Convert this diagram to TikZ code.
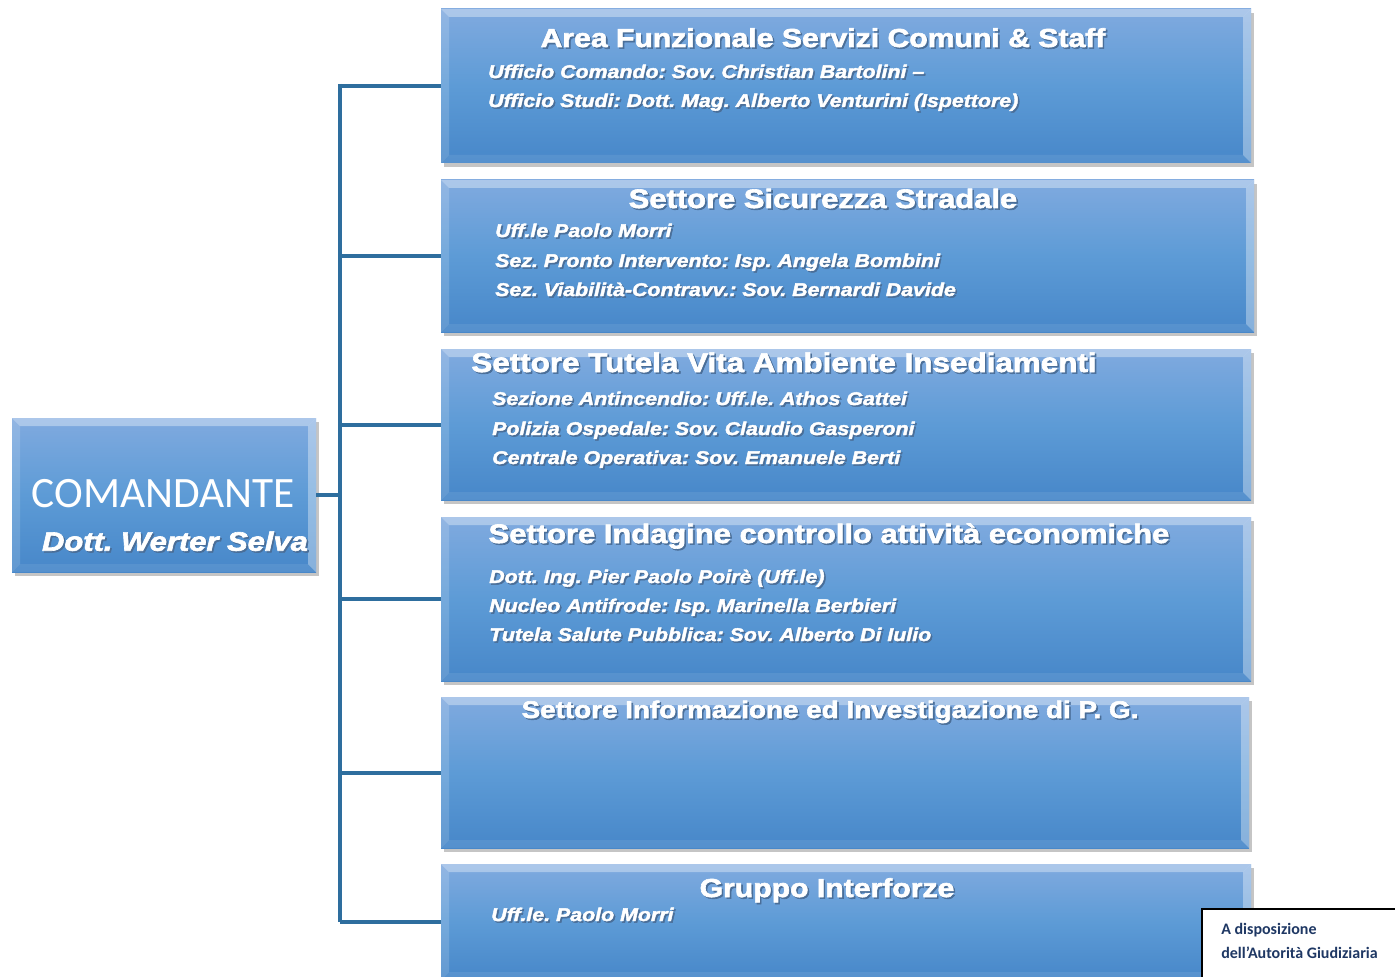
\documentclass[tikz,border=0pt]{standalone}
\usepackage{fontspec}
\setmainfont{Liberation Sans}
\newfontfamily\heavy{Liberation Sans}[BoldFeatures={FakeBold=2.4,FakeStretch=1.16}, BoldItalicFeatures={FakeBold=2.4,FakeStretch=1.16}]
\newfontfamily\carlito{Carlito}
\usetikzlibrary{shadows}
\definecolor{conncol}{HTML}{2E6E9E}
\definecolor{boxtop}{HTML}{80AADF}
\definecolor{boxmid}{HTML}{5D9BD6}
\definecolor{boxbot}{HTML}{4787C9}
\definecolor{notecol}{HTML}{1F3864}
\definecolor{shcol}{HTML}{4A6E98}
\newcommand\shtxt[1]{\rlap{\kern1.2pt\raisebox{-1.2pt}{\textcolor{shcol}{#1}}}#1}
\tikzset{
  bevel/.style={path picture={
    \fill[white,opacity=0.35] (path picture bounding box.north west) -- (path picture bounding box.north east)
      -- ([xshift=-6pt,yshift=-6pt]path picture bounding box.north east) -- ([xshift=6pt,yshift=-6pt]path picture bounding box.north west) -- cycle;
    \fill[white,opacity=0.15] (path picture bounding box.north west) -- (path picture bounding box.south west)
      -- ([xshift=6pt,yshift=6pt]path picture bounding box.south west) -- ([xshift=6pt,yshift=-6pt]path picture bounding box.north west) -- cycle;
    \fill[white,opacity=0.35] (path picture bounding box.north east) -- (path picture bounding box.south east)
      -- ([xshift=-6pt,yshift=6pt]path picture bounding box.south east) -- ([xshift=-6pt,yshift=-6pt]path picture bounding box.north east) -- cycle;
    \fill[white,opacity=0.08] (path picture bounding box.south west) -- (path picture bounding box.south east)
      -- ([xshift=-6pt,yshift=6pt]path picture bounding box.south east) -- ([xshift=6pt,yshift=6pt]path picture bounding box.south west) -- cycle;
  }},
  unitbox/.style={anchor=north west, inner sep=0pt, outer sep=0pt,
    top color=boxtop, bottom color=boxbot, middle color=boxmid,
    drop shadow={opacity=0.45, shadow xshift=2pt, shadow yshift=-3pt}, bevel},
  conn/.style={draw=conncol, line width=3pt},
  title/.style={text=white, inner sep=0pt, anchor=base, font=\heavy\fontsize{19.5}{23}\selectfont\bfseries\frenchspacing},
  sub/.style={text=white, inner sep=0pt, anchor=base west, font=\heavy\fontsize{13.8}{16}\selectfont\bfseries\itshape\frenchspacing},
  note/.style={text=notecol, inner sep=0pt, anchor=west, font=\carlito\fontsize{12}{14}\selectfont\bfseries},
}
\begin{document}
\begin{tikzpicture}[x=0.75pt,y=-0.75pt]
\useasboundingbox (0,0) rectangle (1395,977);
\clip (0,0) rectangle (1395,977);
\fill[white] (0,0) rectangle (1395,977);

% connectors
\coordinate (top) at (340,84);
\coordinate (bot) at (340,922);

% boxes
\node[unitbox, minimum width=228pt, minimum height=115.5pt] (cmd) at (12,418) {};
\node[unitbox, minimum width=607.5pt, minimum height=115.5pt] (b1) at (441,9) {};
\node[unitbox, minimum width=609.75pt, minimum height=114pt] (b2) at (441,180) {};
\node[unitbox, minimum width=607.5pt, minimum height=113.25pt] (b3) at (441,349) {};
\node[unitbox, minimum width=607.5pt, minimum height=123pt] (b4) at (441,517) {};
\node[unitbox, minimum width=606pt, minimum height=113.25pt] (b5) at (441,697) {};
\node[unitbox, minimum width=607.5pt, minimum height=87pt] (b6) at (441,864) {};

\draw[conn] (top) -- (bot);
\draw[conn] (cmd.east) -- (cmd.east -| top);
\foreach \b in {b1,b2,b3,b4,b5,b6}{
  \draw[conn] (\b.west) -- (\b.west -| top);
}

% commander text
\node[text=white, inner sep=0pt, font=\carlito\fontsize{32.5}{36}\selectfont] (cmdt) at (163,494) {COMANDANTE};
\node[text=white, inner sep=0pt, font=\heavy\fontsize{20}{24}\selectfont\bfseries\itshape\frenchspacing] (cmdn) at (175,542) {\shtxt{Dott. Werter Selva}};

% box 1
\node[title] (t1) at (823,47) {\shtxt{Area Funzionale Servizi Comuni \& Staff}};
\node[sub] (s11) at (488,78) {\shtxt{Ufficio Comando: Sov. Christian Bartolini –}};
\node[sub] (s12) at (488,107) {\shtxt{Ufficio Studi: Dott. Mag. Alberto Venturini (Ispettore)}};

% box 2
\node[title, font=\heavy\fontsize{20}{23}\selectfont\bfseries] (t2) at (823,208) {\shtxt{Settore Sicurezza Stradale}};
\node[sub] (s21) at (495,237) {\shtxt{Uff.le Paolo Morri}};
\node[sub] (s22) at (495,267) {\shtxt{Sez. Pronto Intervento: Isp. Angela Bombini}};
\node[sub] (s23) at (495,296) {\shtxt{Sez. Viabilità-Contravv.: Sov. Bernardi Davide}};

% box 3
\node[title, font=\heavy\fontsize{20.3}{23}\selectfont\bfseries] (t3) at (784,372) {\shtxt{Settore Tutela Vita Ambiente Insediamenti}};
\node[sub] (s31) at (492,405) {\shtxt{Sezione Antincendio: Uff.le. Athos Gattei}};
\node[sub] (s32) at (492,435) {\shtxt{Polizia Ospedale: Sov. Claudio Gasperoni}};
\node[sub] (s33) at (492,464) {\shtxt{Centrale Operativa: Sov. Emanuele Berti}};

% box 4
\node[title, font=\heavy\fontsize{20}{23}\selectfont\bfseries] (t4) at (829,543) {\shtxt{Settore Indagine controllo attività economiche}};
\node[sub] (s41) at (489,583) {\shtxt{Dott. Ing. Pier Paolo Poirè (Uff.le)}};
\node[sub] (s42) at (489,612) {\shtxt{Nucleo Antifrode: Isp. Marinella Berbieri}};
\node[sub] (s43) at (489,641) {\shtxt{Tutela Salute Pubblica: Sov. Alberto Di Iulio}};

% box 5
\node[title, font=\heavy\fontsize{18}{21}\selectfont\bfseries\frenchspacing] (t5) at (830,718) {\shtxt{Settore Informazione ed Investigazione di P. G.}};

% box 6
\node[title] (t6) at (827,897) {\shtxt{Gruppo Interforze}};
\node[sub] (s61) at (491,921) {\shtxt{Uff.le. Paolo Morri}};

% note
\node[anchor=north west, draw=black, line width=1.5pt, fill=white, minimum width=150pt, minimum height=60pt, inner sep=0pt] (nb) at (1201,908) {};
\node[note] (n1) at (1221,930) {A disposizione};
\node[note] (n2) at (1221,953) {dell’Autorità Giudiziaria};
\end{tikzpicture}
\end{document}
